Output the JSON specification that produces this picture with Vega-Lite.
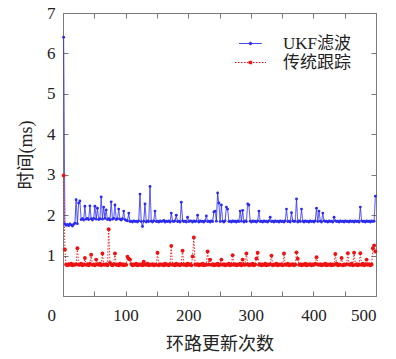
{
"$schema":"https://vega.github.io/schema/vega-lite/v6.json",
"width":313,"height":283,
"autosize":{"type":"none"},
"padding":{"left":63,"top":13,"right":20,"bottom":63},
"config":{"view":{"stroke":"#7a7a7a","strokeWidth":1},
 "axis":{"domain":false,"grid":false,"tickColor":"#7a7a7a","tickSize":-5,"tickWidth":1,"labelFont":"Liberation Serif","labelFontSize":17,"labelColor":"#222","titleFont":"Liberation Serif, Noto Sans CJK SC","titleFontSize":18,"titleFontWeight":"normal","titleColor":"#222"}},
"data":{"values":[
{"x":1,"u":6.40,"t":2.98},{"x":3,"u":1.78,"t":1.15},{"x":5,"u":1.75,"t":0.78},{"x":7,"u":1.77,"t":0.76},{"x":9,"u":1.74,"t":0.79},{"x":11,"u":1.78,"t":0.77},{"x":13,"u":1.76,"t":0.80},{"x":15,"u":1.73,"t":0.76},{"x":17,"u":1.77,"t":0.78},{"x":19,"u":1.80,"t":0.77},
{"x":21,"u":2.38,"t":0.79},{"x":23,"u":1.79,"t":1.18},{"x":25,"u":2.30,"t":0.77},{"x":27,"u":2.35,"t":0.78},{"x":29,"u":1.89,"t":0.80},{"x":31,"u":1.91,"t":0.76},{"x":33,"u":1.88,"t":0.78},{"x":35,"u":2.22,"t":0.94},{"x":37,"u":1.90,"t":0.77},{"x":39,"u":1.92,"t":0.79},
{"x":41,"u":1.89,"t":0.76},{"x":43,"u":2.23,"t":0.80},{"x":45,"u":1.91,"t":1.02},{"x":47,"u":1.88,"t":0.77},{"x":49,"u":1.92,"t":0.78},{"x":51,"u":2.22,"t":0.76},{"x":53,"u":1.90,"t":0.90},{"x":55,"u":2.17,"t":0.79},{"x":57,"u":1.89,"t":0.77},{"x":59,"u":1.91,"t":0.80},
{"x":61,"u":2.45,"t":0.76},{"x":63,"u":1.90,"t":1.05},{"x":65,"u":2.20,"t":0.78},{"x":67,"u":1.92,"t":0.77},{"x":69,"u":2.13,"t":0.79},{"x":71,"u":1.89,"t":0.76},{"x":73,"u":1.91,"t":1.65},{"x":75,"u":1.88,"t":0.82},{"x":77,"u":2.33,"t":0.78},{"x":79,"u":1.90,"t":0.76},
{"x":81,"u":1.92,"t":0.79},{"x":83,"u":2.25,"t":1.05},{"x":85,"u":1.89,"t":0.77},{"x":87,"u":1.91,"t":0.78},{"x":89,"u":2.15,"t":0.76},{"x":91,"u":1.90,"t":0.80},{"x":93,"u":1.88,"t":0.77},{"x":95,"u":1.91,"t":0.79},{"x":97,"u":2.10,"t":0.76},{"x":99,"u":1.89,"t":0.78},
{"x":101,"u":1.87,"t":0.77},{"x":103,"u":1.86,"t":0.97},{"x":105,"u":2.05,"t":0.92},{"x":107,"u":1.84,"t":0.90},{"x":109,"u":1.85,"t":0.79},{"x":111,"u":1.83,"t":0.76},{"x":113,"u":1.86,"t":0.78},{"x":115,"u":1.84,"t":0.77},{"x":117,"u":1.85,"t":0.80},{"x":119,"u":1.83,"t":0.76},
{"x":121,"u":1.86,"t":0.78},{"x":123,"u":2.52,"t":0.77},{"x":125,"u":1.84,"t":0.79},{"x":127,"u":1.72,"t":0.76},{"x":129,"u":1.85,"t":0.85},{"x":131,"u":2.28,"t":0.78},{"x":133,"u":1.83,"t":0.77},{"x":135,"u":1.86,"t":0.80},{"x":137,"u":1.84,"t":0.76},{"x":139,"u":2.71,"t":0.78},
{"x":141,"u":1.85,"t":0.77},{"x":143,"u":1.83,"t":0.79},{"x":145,"u":1.86,"t":0.76},{"x":147,"u":2.10,"t":0.78},{"x":149,"u":1.84,"t":0.77},{"x":151,"u":1.85,"t":1.07},{"x":153,"u":1.83,"t":0.76},{"x":155,"u":1.86,"t":0.79},{"x":157,"u":1.84,"t":0.77},{"x":159,"u":1.85,"t":0.78},
{"x":161,"u":1.87,"t":0.76},{"x":163,"u":1.83,"t":0.80},{"x":165,"u":1.85,"t":0.77},{"x":167,"u":1.84,"t":0.78},{"x":169,"u":1.86,"t":0.76},{"x":171,"u":1.83,"t":0.79},{"x":173,"u":2.05,"t":1.24},{"x":175,"u":1.85,"t":0.77},{"x":177,"u":1.84,"t":0.78},{"x":179,"u":1.86,"t":0.76},
{"x":181,"u":2.00,"t":0.80},{"x":183,"u":1.84,"t":0.77},{"x":185,"u":1.85,"t":0.78},{"x":187,"u":1.83,"t":0.76},{"x":189,"u":2.32,"t":0.79},{"x":191,"u":1.86,"t":1.12},{"x":193,"u":1.84,"t":0.77},{"x":195,"u":1.85,"t":0.78},{"x":197,"u":1.83,"t":0.76},{"x":199,"u":1.95,"t":0.80},
{"x":201,"u":1.84,"t":0.77},{"x":203,"u":1.86,"t":0.79},{"x":205,"u":1.85,"t":0.76},{"x":207,"u":1.83,"t":0.98},{"x":209,"u":1.86,"t":1.45},{"x":211,"u":1.84,"t":0.78},{"x":213,"u":1.85,"t":0.77},{"x":215,"u":2.00,"t":0.79},{"x":217,"u":1.83,"t":0.76},{"x":219,"u":1.86,"t":0.78},
{"x":221,"u":1.84,"t":0.77},{"x":223,"u":1.85,"t":0.80},{"x":225,"u":1.83,"t":0.76},{"x":227,"u":1.86,"t":0.78},{"x":229,"u":1.98,"t":0.77},{"x":231,"u":1.84,"t":1.10},{"x":233,"u":1.85,"t":0.78},{"x":235,"u":1.83,"t":0.90},{"x":237,"u":1.86,"t":0.77},{"x":239,"u":1.84,"t":0.79},
{"x":241,"u":2.08,"t":0.76},{"x":243,"u":2.10,"t":0.78},{"x":245,"u":1.85,"t":0.77},{"x":247,"u":2.55,"t":0.80},{"x":249,"u":2.30,"t":0.76},{"x":251,"u":1.84,"t":0.78},{"x":253,"u":2.25,"t":0.90},{"x":255,"u":1.85,"t":0.77},{"x":257,"u":1.83,"t":0.79},{"x":259,"u":1.86,"t":0.76},
{"x":261,"u":2.20,"t":0.78},{"x":263,"u":2.15,"t":0.77},{"x":265,"u":1.84,"t":0.80},{"x":267,"u":1.85,"t":0.76},{"x":269,"u":1.83,"t":0.78},{"x":271,"u":1.86,"t":1.01},{"x":273,"u":1.84,"t":0.77},{"x":275,"u":1.85,"t":0.79},{"x":277,"u":1.83,"t":0.76},{"x":279,"u":1.86,"t":0.78},
{"x":281,"u":1.84,"t":0.77},{"x":283,"u":2.10,"t":0.80},{"x":285,"u":1.85,"t":0.76},{"x":287,"u":2.12,"t":0.90},{"x":289,"u":1.83,"t":0.78},{"x":291,"u":1.86,"t":0.77},{"x":293,"u":1.84,"t":1.05},{"x":295,"u":2.28,"t":0.79},{"x":297,"u":2.25,"t":0.76},{"x":299,"u":1.85,"t":0.78},
{"x":301,"u":1.83,"t":0.77},{"x":303,"u":1.86,"t":0.80},{"x":305,"u":1.84,"t":0.76},{"x":307,"u":1.85,"t":0.78},{"x":309,"u":1.83,"t":0.93},{"x":311,"u":1.86,"t":1.07},{"x":313,"u":2.10,"t":0.77},{"x":315,"u":1.84,"t":0.79},{"x":317,"u":1.85,"t":0.76},{"x":319,"u":1.83,"t":0.78},
{"x":321,"u":1.86,"t":0.77},{"x":323,"u":1.84,"t":0.80},{"x":325,"u":1.85,"t":0.76},{"x":327,"u":1.83,"t":0.78},{"x":329,"u":1.86,"t":0.77},{"x":331,"u":1.95,"t":0.79},{"x":333,"u":1.84,"t":1.00},{"x":335,"u":1.85,"t":0.76},{"x":337,"u":1.83,"t":0.78},{"x":339,"u":1.86,"t":0.77},
{"x":341,"u":1.84,"t":0.80},{"x":343,"u":1.85,"t":0.76},{"x":345,"u":1.83,"t":0.78},{"x":347,"u":1.86,"t":0.77},{"x":349,"u":1.84,"t":0.79},{"x":351,"u":1.85,"t":0.76},{"x":353,"u":1.83,"t":1.05},{"x":355,"u":1.86,"t":0.78},{"x":357,"u":2.15,"t":0.77},{"x":359,"u":1.84,"t":0.80},
{"x":361,"u":1.85,"t":0.76},{"x":363,"u":1.83,"t":0.78},{"x":365,"u":2.06,"t":0.77},{"x":367,"u":1.86,"t":0.79},{"x":369,"u":1.84,"t":0.76},{"x":371,"u":1.85,"t":0.78},{"x":373,"u":2.40,"t":1.08},{"x":375,"u":1.83,"t":0.92},{"x":377,"u":1.86,"t":0.77},{"x":379,"u":1.84,"t":0.79},
{"x":381,"u":2.15,"t":0.76},{"x":383,"u":1.85,"t":0.78},{"x":385,"u":1.83,"t":0.77},{"x":387,"u":1.86,"t":0.80},{"x":389,"u":1.84,"t":0.76},{"x":391,"u":1.85,"t":0.78},{"x":393,"u":1.83,"t":0.77},{"x":395,"u":1.86,"t":0.79},{"x":397,"u":1.84,"t":0.76},{"x":399,"u":1.85,"t":0.78},
{"x":401,"u":1.83,"t":0.77},{"x":403,"u":1.86,"t":0.80},{"x":405,"u":2.17,"t":0.96},{"x":407,"u":1.84,"t":0.78},{"x":409,"u":2.10,"t":0.77},{"x":411,"u":1.85,"t":0.79},{"x":413,"u":1.83,"t":0.76},{"x":415,"u":2.05,"t":0.78},{"x":417,"u":1.86,"t":0.77},{"x":419,"u":1.84,"t":0.80},
{"x":421,"u":1.85,"t":0.76},{"x":423,"u":1.83,"t":0.78},{"x":425,"u":1.86,"t":0.77},{"x":427,"u":1.84,"t":0.79},{"x":429,"u":1.85,"t":0.76},{"x":431,"u":1.83,"t":0.78},{"x":433,"u":1.95,"t":0.77},{"x":435,"u":1.86,"t":1.04},{"x":437,"u":1.84,"t":0.80},{"x":439,"u":1.85,"t":0.76},
{"x":441,"u":1.83,"t":0.78},{"x":443,"u":1.86,"t":0.77},{"x":445,"u":1.84,"t":0.94},{"x":447,"u":1.85,"t":0.76},{"x":449,"u":1.83,"t":0.78},{"x":451,"u":1.86,"t":0.77},{"x":453,"u":1.84,"t":0.79},{"x":455,"u":1.85,"t":1.06},{"x":457,"u":1.83,"t":0.78},{"x":459,"u":1.86,"t":0.77},
{"x":461,"u":1.84,"t":0.80},{"x":463,"u":1.85,"t":0.76},{"x":465,"u":1.83,"t":1.07},{"x":467,"u":1.86,"t":0.77},{"x":469,"u":1.84,"t":0.79},{"x":471,"u":1.85,"t":0.76},{"x":473,"u":1.83,"t":0.78},{"x":475,"u":2.20,"t":1.06},{"x":477,"u":1.86,"t":0.77},{"x":479,"u":1.84,"t":0.80},
{"x":481,"u":1.85,"t":0.76},{"x":483,"u":1.83,"t":0.78},{"x":485,"u":1.86,"t":0.90},{"x":487,"u":1.84,"t":0.77},{"x":489,"u":1.85,"t":0.79},{"x":491,"u":1.83,"t":0.76},{"x":493,"u":1.86,"t":0.78},{"x":495,"u":1.84,"t":1.18},{"x":497,"u":1.85,"t":1.25},{"x":499,"u":2.47,"t":1.10}
]},
"transform":[{"fold":["u","t"],"as":["s","v"]}],
"layer":[
 {"mark":{"type":"line","strokeWidth":0.9},
  "encoding":{
   "x":{"field":"x","type":"quantitative","scale":{"domain":[0,500],"nice":false},
        "axis":{"values":[0,50,100,150,200,250,300,350,400,450,500],"labelExpr":"datum.value % 100 == 0 ? datum.label : ''","labelPadding":16,"labelOffset":{"condition":{"test":"datum.value == 0","value":-16},"value":0},"title":"环路更新次数","titlePadding":12}},
   "y":{"field":"v","type":"quantitative","scale":{"domain":[0,7],"nice":false},
        "axis":{"values":[0,1,2,3,4,5,6,7],"labelExpr":"datum.value == 0 ? '' : datum.label","labelPadding":13,"title":"时间(ms)","titlePadding":11}},
   "color":{"field":"s","type":"nominal","scale":{"domain":["u","t"],"range":["#2a2af0","#ee1111"]},
        "legend":{"title":null,"orient":"none","legendX":179,"legendY":22,"padding":0,"symbolType":"M-8,0H8M-0.9,0A0.9,0.9 0 1,0 0.9,0A0.9,0.9 0 1,0 -0.9,0","symbolSize":1,"symbolStrokeWidth":1,"labelOffset":24,"labelFont":"Liberation Serif, Noto Sans CJK SC","labelFontSize":17,"labelColor":"#222","rowPadding":1,"labelExpr":"datum.value == 'u' ? 'UKF滤波' : '传统跟踪'",
          "encode":{"symbols":{"update":{"size":{"value":1},"fill":{"scale":"color","field":"value"},"fillOpacity":{"value":1}}}}}},
   "strokeDash":{"field":"s","type":"nominal","scale":{"domain":["u","t"],"range":[[1,0],[1.5,1.5]]},"legend":null}
  }},
 {"mark":{"type":"point","filled":true,"opacity":1},
  "encoding":{
   "x":{"field":"x","type":"quantitative","axis":null},
   "y":{"field":"v","type":"quantitative","axis":null},
   "color":{"field":"s","type":"nominal","legend":null},
   "size":{"field":"s","type":"nominal","scale":{"domain":["u","t"],"range":[8,15]},"legend":null}
  }},
 {"mark":{"type":"point","opacity":0},
  "encoding":{
   "x":{"field":"x","type":"quantitative","axis":{"orient":"top","values":[0,50,100,150,200,250,300,350,400,450,500],"labels":false,"title":null}},
   "y":{"field":"v","type":"quantitative","axis":{"orient":"right","values":[0,1,2,3,4,5,6,7],"labels":false,"title":null}}
  }}
],
"resolve":{"axis":{"x":"independent","y":"independent"}}
}
